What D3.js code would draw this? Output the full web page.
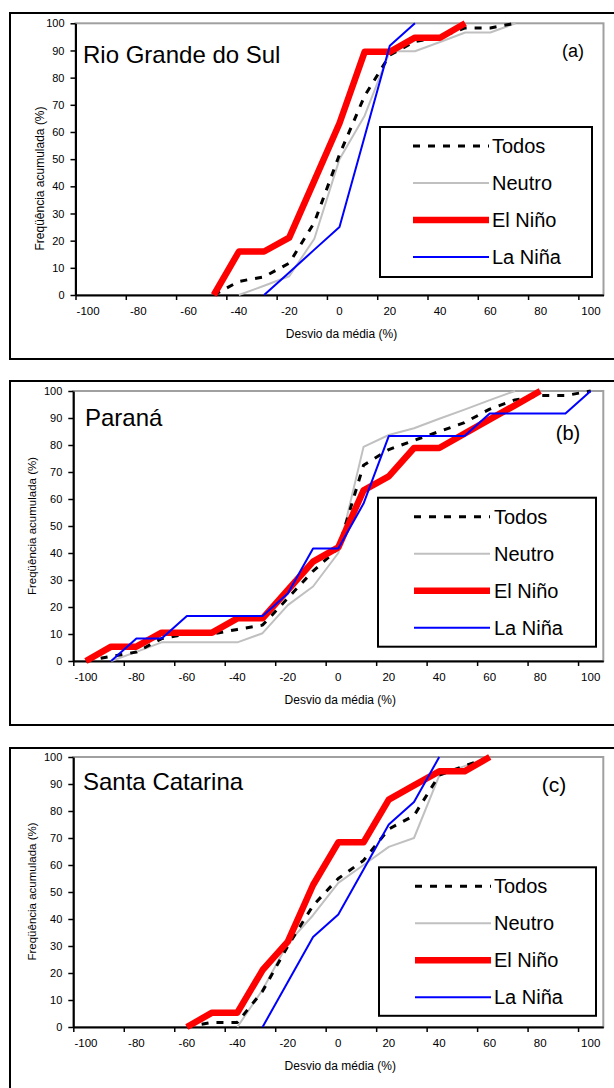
<!DOCTYPE html>
<html>
<head>
<meta charset="utf-8">
<script src="https://cdn.jsdelivr.net/npm/d3@7/dist/d3.min.js"></script>
<style>
body { margin: 0; background: #fff; }
svg { display: block; font-family: "Liberation Sans", Arial, sans-serif; }
</style>
</head>
<body>
<svg width="614" height="1088"></svg>
<script>
// Categorias do eixo X (desvio da média, %)
const desvio = [-100, -90, -80, -70, -60, -50, -40, -30, -20, -10, 0, 10, 20, 30, 40, 50, 60, 70, 80, 90, 100];
const rotulosX = [-100, -80, -60, -40, -20, 0, 20, 40, 60, 80, 100];
const ticksY = [0, 10, 20, 30, 40, 50, 60, 70, 80, 90, 100];
const nomesSeries = ["Todos", "Neutro", "El Niño", "La Niña"];

// (a) Rio Grande do Sul - frequência acumulada (%)
const rsTodos  = [null, null, null, null, null, 0, 5, 6.7, 11.7, 26.7, 51.7, 73.3, 88.3, 93.3, 95, 98.3, 98.3, 100, null, null, null];
const rsNeutro = [null, null, null, null, null, null, 0, 3.4, 6.9, 20.7, 50, 66, 89.7, 89.7, 93.1, 96.6, 96.6, 100, null, null, null];
const rsElNino = [null, null, null, null, null, 0, 16, 16, 21.1, 42.1, 63.2, 89.5, 89.5, 94.7, 94.7, 100, null, null, null, null, null];
const rsLaNina = [null, null, null, null, null, null, null, 0, 8.3, 16.7, 25, 58.3, 91.7, 100, null, null, null, null, null, null, null];

// (b) Paraná
const prTodos  = [0, 1.7, 3.3, 8.3, 10, 10, 11.7, 13.3, 23.3, 33.3, 41.7, 72.5, 78.3, 81.7, 85, 88.3, 93.3, 96.7, 98.3, 98.3, 100];
const prNeutro = [null, 0, 3.4, 6.9, 6.9, 6.9, 6.9, 10.3, 20.7, 27.6, 40, 79.3, 83.7, 86.2, 89.7, 93.1, 96.6, 100, null, null, null];
const prElNino = [0, 5.3, 5.3, 10.5, 10.5, 10.5, 15.8, 15.8, 26.3, 36.8, 42.1, 63.2, 68.4, 78.9, 78.9, 84.2, 89.5, 94.7, 100, null, null];
const prLaNina = [null, 0, 8.3, 8.3, 16.7, 16.7, 16.7, 16.7, 25, 41.7, 41.7, 58.3, 83.3, 83.3, 83.3, 83.3, 91.7, 91.7, 91.7, 91.7, 100];

// (c) Santa Catarina
const scTodos  = [null, null, null, null, 0, 1.7, 1.7, 13.3, 30, 45, 55, 61.7, 73.3, 78.3, 93.3, 96.7, 100, null, null, null, null];
const scNeutro = [null, null, null, null, null, null, 0, 13.8, 31, 41.4, 53.4, 60, 66.7, 70, 93.1, 96.6, 100, null, null, null, null];
const scElNino = [null, null, null, null, 0, 5.3, 5.3, 21.1, 31.6, 52.6, 68.4, 68.4, 84.2, 89.5, 94.7, 94.7, 100, null, null, null, null];
const scLaNina = [null, null, null, null, null, null, null, 0, 16.7, 33.3, 41.7, 58.3, 75, 83.3, 100, null, null, null, null, null, null];

// Estilo de cada série
const estilos = {
    "Todos":   { cor: "#000000", largura: 3,   traco: "7,8" },
    "Neutro":  { cor: "#c0c0c0", largura: 2,   traco: null },
    "El Niño": { cor: "#ff0000", largura: 6.5, traco: null },
    "La Niña": { cor: "#0000ff", largura: 2,   traco: null }
};
// ordem de desenho (a última fica por cima)
const ordemDesenho = ["Neutro", "Todos", "El Niño", "La Niña"];

// Layout de cada painel
const paineis = [
    { titulo: "Rio Grande do Sul", letra: "(a)", dados: [rsTodos, rsNeutro, rsElNino, rsLaNina],
      moldura: [13, 359], area: { top: 23.3, bottom: 295, left: 75.5, right: 603.5 },
      tituloX: 83, tituloY: 63, letraX: 573, letraY: 57, letraTam: 18,
      legenda: { x: 380, y: 127, w: 212, h: 150, x1: 413, x2: 489, tx: 492 },
      eixoY: { x: 44, y: 178.5, tam: 12 } },
    { titulo: "Paraná", letra: "(b)", dados: [prTodos, prNeutro, prElNino, prLaNina],
      moldura: [381, 725], area: { top: 391, bottom: 661, left: 73.3, right: 603.3 },
      tituloX: 85, tituloY: 426, letraX: 568, letraY: 440, letraTam: 20,
      legenda: { x: 378, y: 497.7, w: 218, h: 149, x1: 414, x2: 490, tx: 494 },
      eixoY: { x: 36, y: 526, tam: 11.5 } },
    { titulo: "Santa Catarina", letra: "(c)", dados: [scTodos, scNeutro, scElNino, scLaNina],
      moldura: [748, 1200], area: { top: 757, bottom: 1027, left: 73.3, right: 603.3 },
      tituloX: 83, tituloY: 790, letraX: 554, letraY: 792, letraTam: 21,
      legenda: { x: 379, y: 867.3, w: 217, h: 148.5, x1: 415, x2: 491, tx: 494 },
      eixoY: { x: 36, y: 891.5, tam: 11.5 } }
];

const svg = d3.select("svg");

// Desenha um painel completo
function drawPanel(p) {
    const a = p.area;
    const g = svg.append("g");

    // moldura externa
    g.append("rect")
        .attr("x", 10).attr("y", p.moldura[0])
        .attr("width", 620).attr("height", p.moldura[1] - p.moldura[0])
        .attr("fill", "white").attr("stroke", "black").attr("stroke-width", 2);

    // área do gráfico com borda cinza
    g.append("rect")
        .attr("x", a.left).attr("y", a.top)
        .attr("width", a.right - a.left).attr("height", a.bottom - a.top)
        .attr("fill", "white").attr("stroke", "#a0a0a0").attr("stroke-width", 2);

    // escalas
    const scX = d3.scaleBand().domain(desvio).range([a.left, a.right]).padding(0);
    const scTick = d3.scaleLinear().domain([-105, 105]).range([a.left, a.right]);
    const scY = d3.scaleLinear().domain([0, 100]).range([a.bottom, a.top]);

    // eixo Y
    const axY = g.append("g")
        .attr("transform", `translate(${a.left},0)`)
        .call(d3.axisLeft(scY).tickValues(ticksY).tickSize(5).tickPadding(6).tickSizeOuter(0));
    axY.selectAll("text").attr("font-size", 11).attr("fill", "#000").attr("font-family", "Liberation Sans, Arial, sans-serif");

    // marcas do eixo X (entre categorias)
    const axX = g.append("g")
        .attr("transform", `translate(0,${a.bottom})`)
        .call(d3.axisBottom(scTick).tickValues(d3.range(-105, 100, 20)).tickSize(5).tickSizeOuter(0).tickFormat(""));

    // rótulos do eixo X (no centro das categorias)
    const lbX = g.append("g")
        .attr("transform", `translate(0,${a.bottom})`)
        .call(d3.axisBottom(scX).tickValues(rotulosX).tickSize(0).tickPadding(12));
    lbX.select(".domain").remove();
    lbX.selectAll("text").attr("font-size", 11.5).attr("fill", "#000").attr("font-family", "Liberation Sans, Arial, sans-serif");

    [axY, axX].forEach(ax => {
        ax.select(".domain").attr("stroke", "black").attr("stroke-width", 2);
        ax.selectAll(".tick line").attr("stroke", "black").attr("stroke-width", 1.5);
    });

    // títulos dos eixos
    g.append("text")
        .attr("x", (a.left + a.right) / 2 + 2).attr("y", a.bottom + 42.5)
        .attr("text-anchor", "middle").attr("font-size", 12)
        .text("Desvio da média (%)");
    g.append("text")
        .attr("transform", `translate(${p.eixoY.x},${p.eixoY.y}) rotate(-90)`)
        .attr("text-anchor", "middle").attr("font-size", p.eixoY.tam)
        .text("Freqüência acumulada  (%)");

    // linhas das séries
    const linha = d3.line()
        .defined(d => d.v != null)
        .x(d => scX(d.c) + scX.bandwidth() / 2)
        .y(d => scY(d.v));

    ordemDesenho.forEach(nome => {
        const valores = p.dados[nomesSeries.indexOf(nome)];
        const est = estilos[nome];
        g.append("path")
            .datum(desvio.map((c, i) => ({ c: c, v: valores[i] })))
            .attr("fill", "none")
            .attr("stroke", est.cor)
            .attr("stroke-width", est.largura)
            .attr("stroke-dasharray", est.traco)
            .attr("stroke-linejoin", "round")
            .attr("d", linha);
    });

    // título do painel e letra
    g.append("text")
        .attr("x", p.tituloX).attr("y", p.tituloY)
        .attr("font-size", 24).text(p.titulo);
    g.append("text")
        .attr("x", p.letraX).attr("y", p.letraY)
        .attr("text-anchor", "middle").attr("font-size", p.letraTam).text(p.letra);

    // legenda
    const L = p.legenda;
    g.append("rect")
        .attr("x", L.x).attr("y", L.y).attr("width", L.w).attr("height", L.h)
        .attr("fill", "white").attr("stroke", "black").attr("stroke-width", 2);
    const linhasY = [19, 56, 93, 130];
    nomesSeries.forEach((nome, i) => {
        const est = estilos[nome];
        const yy = L.y + linhasY[i];
        g.append("line")
            .attr("x1", L.x1).attr("x2", L.x2).attr("y1", yy).attr("y2", yy)
            .attr("stroke", est.cor).attr("stroke-width", est.largura)
            .attr("stroke-dasharray", est.traco);
        g.append("text")
            .attr("x", L.tx).attr("y", yy + 7)
            .attr("font-size", 20).text(nome);
    });
}

paineis.forEach(drawPanel);
</script>
</body>
</html>
